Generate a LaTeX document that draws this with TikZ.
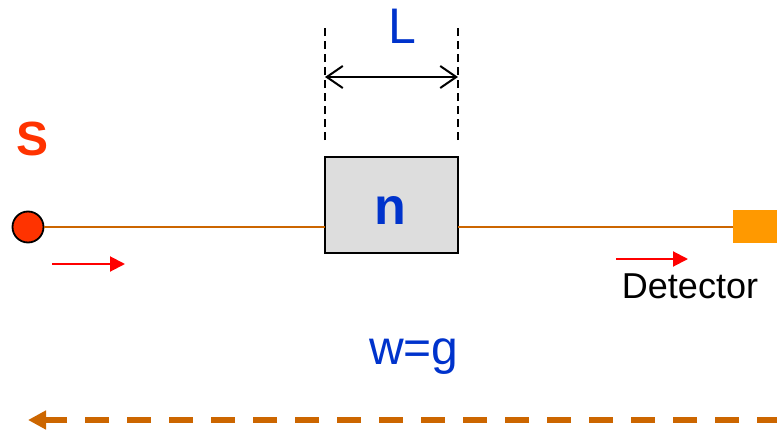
\documentclass[tikz,border=0pt]{standalone}
\usepackage{fontspec}
\setmainfont{Liberation Sans}
\usepackage{tikz}
\usetikzlibrary{positioning,arrows.meta}
\definecolor{beamorange}{HTML}{CC6600}
\definecolor{srcred}{HTML}{FF3300}
\definecolor{detorange}{HTML}{FF9900}
\definecolor{labelblue}{HTML}{0033CC}
\definecolor{boxgray}{HTML}{DDDDDD}

\begin{document}
\begin{tikzpicture}[x=0.5pt, y=0.5pt,
  beam/.style={draw=beamorange, line width=1pt},
  flow/.style={red, line width=1pt, -{Triangle[length=7.5pt,width=7.5pt]}},
  guide/.style={black, line width=0.8pt, dash pattern=on 4pt off 2.5pt},
  every node/.style={inner sep=0pt, outer sep=0pt}]
\useasboundingbox (0,0) rectangle (777,430);
\node (src) [circle, draw=black, line width=0.9pt, fill=srcred, minimum size=15.5pt] at (28,203) {};
\node (slabel) [anchor=base, text=srcred, font=\fontsize{24}{24}\selectfont\bfseries] at (33,275) {S};
\node (smp) [draw=black, line width=0.8pt, fill=boxgray, minimum width=66.5pt, minimum height=48pt] at (391.5,225) {};
\node (nlabel) [anchor=base, text=labelblue, font=\fontsize{26}{26}\selectfont\bfseries] at (390.5,206) {n};
\node (det) [fill=detorange, minimum width=30pt, minimum height=16.5pt] at (763,203.5) {};
\node (detlabel) [anchor=base, font=\fontsize{18}{18}\selectfont] at (690,132) {Detector};
\node (wlabel) [anchor=base, text=labelblue, font=\fontsize{24}{24}\selectfont] at (414,66) {w=g};
\node (llabel) [anchor=base, text=labelblue, font=\fontsize{25}{25}\selectfont] at (402,387) {L};
\coordinate (gl1) at (325,290); \coordinate (gl2) at (325,402);
\coordinate (gr1) at (458,290); \coordinate (gr2) at (458,402);
\coordinate (al) at (325,353); \coordinate (ar) at (458,353);
\coordinate (f1a) at (52,166); \coordinate (f1b) at (125,166);
\coordinate (f2a) at (616,171); \coordinate (f2b) at (688,171);
\coordinate (backR) at (781,10); \coordinate (backL) at (28,10);
% beam
\draw[beam] (src) -- (src -| smp.west);
\draw[beam] (src -| smp.east) -- (src -| det.west);
% length of sample
\draw[guide] (gl1) -- (gl2);
\draw[guide] (gr1) -- (gr2);
\draw[line width=1pt, {Straight Barb[length=8pt,width=11pt]}-{Straight Barb[length=8pt,width=11pt]}] (al) -- (ar);
% propagation
\draw[flow] (f1a) -- (f1b);
\draw[flow] (f2a) -- (f2b);
\draw[beamorange, line width=3pt, dash pattern=on 12pt off 9pt, -{Triangle[length=9pt,width=9pt]}] (backR) -- (backL);
\end{tikzpicture}
\end{document}
